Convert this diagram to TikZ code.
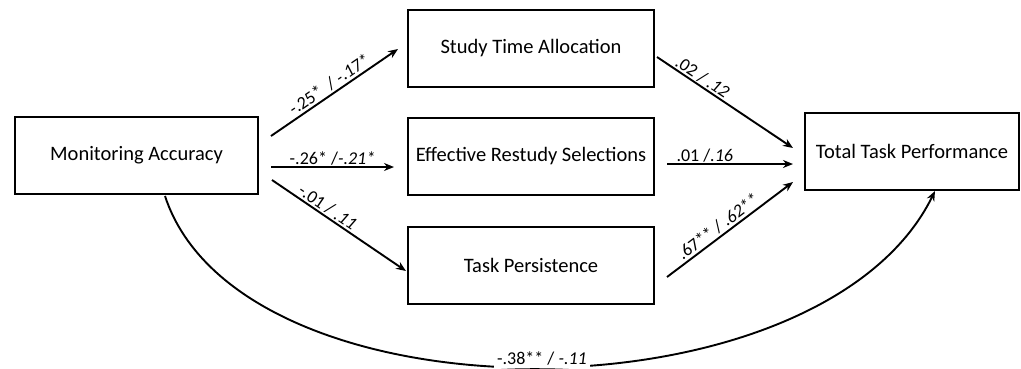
\documentclass[tikz,border=0pt]{standalone}
\usepackage{fontspec}
\setmainfont{Carlito}
\usetikzlibrary{arrows.meta}
\begin{document}
\begin{tikzpicture}[x=1pt,y=-1pt,
  box/.style={draw,line width=2.6pt,minimum width=#1,minimum height=77pt,inner sep=0pt,font=\fontsize{20.5}{23}\selectfont},
  arr/.style={line width=1.9pt,-{Stealth[length=10pt,width=8pt]}},
  lab/.style={font=\fontsize{18}{20}\selectfont,inner sep=1pt}]
\useasboundingbox (0,0) rectangle (1021,368);
\node[box=243pt] (ma) at (136.5,155.5) {Monitoring Accuracy};
\node[box=246pt] (sta) at (531,48.5) {Study Time Allocation};
\node[box=246pt] (ers) at (531,156.5) {Effective Restudy Selections};
\node[box=246pt] (tp) at (531,265.5) {Task Persistence};
\node[box=214pt] (ttp) at (912,151.5) {Total Task Performance};
\coordinate (a1) at (271,136); \coordinate (b1) at (398,49);
\coordinate (a2) at (271,167); \coordinate (b2) at (394,167);
\coordinate (a3) at (272,180); \coordinate (b3) at (406,271);
\coordinate (c1) at (657,57); \coordinate (d1) at (793,148);
\coordinate (c2) at (667,164); \coordinate (d2) at (793,164);
\coordinate (c3) at (667,277); \coordinate (d3) at (793,182);
\coordinate (m0) at (165,196); \coordinate (t0) at (935,191);
\draw[arr] (a1) -- node[lab,sloped,above=1pt] {-.25*~~/ \textit{-.17*}} (b1);
\draw[arr] (a2) -- node[lab,above=0pt] {-.26* /\textit{-.21*}} (b2);
\draw[arr] (a3) -- node[lab,sloped,above=0pt,pos=0.38] {-.01 / \textit{.11}} (b3);
\draw[arr] (c1) -- node[lab,sloped,above=0pt,pos=0.3] {.02 / \textit{.12}} (d1);
\draw[arr] (c2) -- node[lab,above=0pt,pos=0.3] {.01 /\textit{.16}} (d2);
\draw[arr] (c3) -- node[lab,sloped,above=1pt,pos=0.45] {.67** / \textit{.62**}} (d3);
\draw[arr] (m0) .. controls (240,425) and (820,425) .. (t0);
\node[lab,fill=white,inner sep=3pt] (lbl) at (542,358) {-.38** / \textit{-.11}};
\end{tikzpicture}
\end{document}
